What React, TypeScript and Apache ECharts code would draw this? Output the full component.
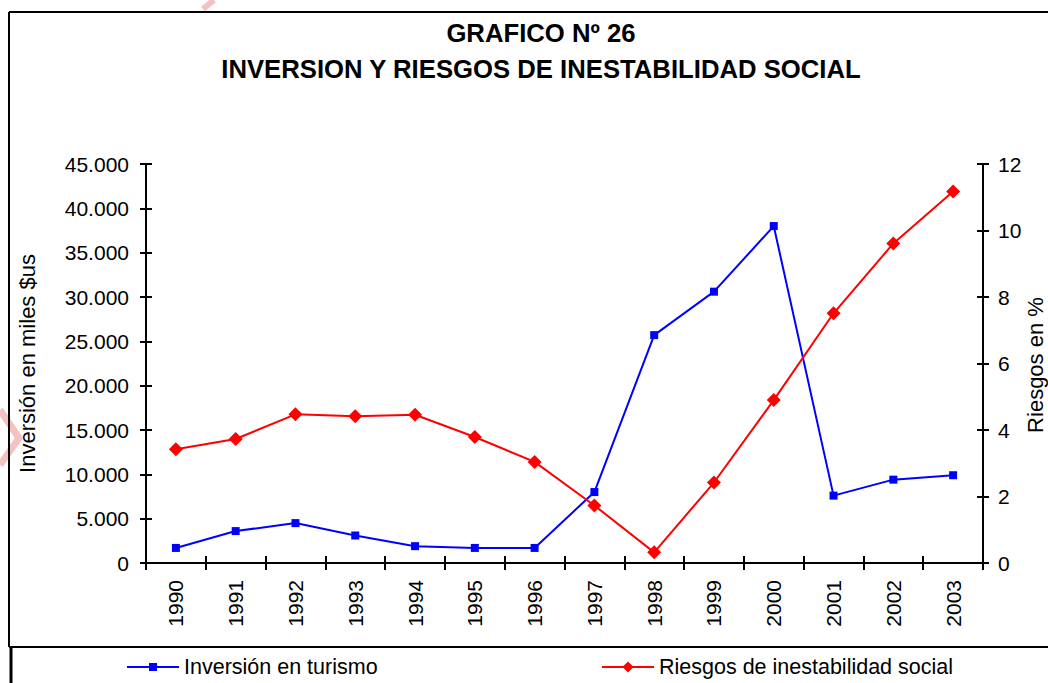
import React, { useEffect, useRef } from "react";
import * as echarts from "echarts";

const years = ["1990", "1991", "1992", "1993", "1994", "1995", "1996", "1997", "1998", "1999", "2000", "2001", "2002", "2003"];
const inversion = [1700, 3600, 4500, 3100, 1900, 1700, 1700, 8000, 25700, 30600, 38000, 7600, 9400, 9900];
const riesgos = [3.42, 3.73, 4.47, 4.41, 4.46, 3.79, 3.04, 1.73, 0.32, 2.42, 4.9, 7.51, 9.61, 11.17];
const titleLines = ["GRAFICO Nº 26", "INVERSION Y RIESGOS DE INESTABILIDAD SOCIAL"];
const seriesNames = ["Inversión en turismo", "Riesgos de inestabilidad social"];
const leftAxisName = "Inversión en miles $us";
const rightAxisName = "Riesgos en %";

const FONT = "'Liberation Sans', Arial, sans-serif";

const fmtThousands = (v: number) => String(v).replace(/\B(?=(\d{3})+(?!\d))/g, ".");

export default function App() {
  const ref = useRef<HTMLDivElement>(null);
  useEffect(() => {
    if (!ref.current) return;
    const chart = echarts.init(ref.current, undefined, { renderer: "svg" });
    const tickStyle = { color: "#000", width: 2 };
    chart.setOption({
      animation: false,
      backgroundColor: "#fff",
      textStyle: { fontFamily: FONT },
      title: {
        text: titleLines.join("\n"),
        left: 541,
        top: 15,
        textAlign: "center",
        padding: 0,
        textStyle: { fontFamily: FONT, fontSize: 25.7, fontWeight: "bold", color: "#000", lineHeight: 36 },
      },
      grid: { left: 146, right: 65, top: 164, bottom: 120, containLabel: false },
      legend: [
        {
          data: [seriesNames[0]],
          left: 126,
          top: 656,
          itemWidth: 52,
          itemHeight: 10,
          padding: 0,
          textStyle: { fontFamily: FONT, fontSize: 21.5, color: "#000" },
        },
        {
          data: [seriesNames[1]],
          left: 601,
          top: 656,
          itemWidth: 52,
          itemHeight: 14,
          padding: 0,
          textStyle: { fontFamily: FONT, fontSize: 21.5, color: "#000" },
        },
      ],
      xAxis: [
        {
          type: "category",
          data: years,
          position: "bottom",
          boundaryGap: true,
          axisLine: { lineStyle: { color: "#000", width: 2 } },
          axisTick: { show: true, length: 7, lineStyle: tickStyle },
          axisLabel: { rotate: 90, margin: 17, fontSize: 21, color: "#000", fontFamily: FONT },
          splitLine: { show: false },
        },
        {
          type: "category",
          data: years,
          position: "bottom",
          boundaryGap: true,
          axisLine: { show: false },
          axisTick: { show: true, inside: true, length: 7, lineStyle: tickStyle },
          axisLabel: { show: false },
          splitLine: { show: false },
        },
      ],
      yAxis: [
        {
          type: "value",
          position: "left",
          min: 0,
          max: 45000,
          interval: 5000,
          name: leftAxisName,
          nameLocation: "middle",
          nameGap: 108,
          nameTextStyle: { fontFamily: FONT, fontSize: 22, color: "#000" },
          axisLine: { show: true, lineStyle: { color: "#000", width: 2 } },
          axisTick: { show: true, length: 6, lineStyle: tickStyle },
          axisLabel: { margin: 17, fontSize: 21, color: "#000", fontFamily: FONT, formatter: (v: number) => fmtThousands(v) },
          splitLine: { show: false },
        },
        {
          type: "value",
          position: "right",
          min: 0,
          max: 12,
          interval: 2,
          axisLine: { show: true, lineStyle: { color: "#000", width: 2 } },
          axisTick: { show: true, length: 6, lineStyle: tickStyle },
          axisLabel: { margin: 15, fontSize: 21, color: "#000", fontFamily: FONT },
          splitLine: { show: false },
        },
        {
          type: "value",
          position: "left",
          min: 0,
          max: 45000,
          interval: 5000,
          axisLine: { show: false },
          axisTick: { show: true, inside: true, length: 6, lineStyle: tickStyle },
          axisLabel: { show: false },
          splitLine: { show: false },
        },
        {
          type: "value",
          position: "right",
          min: 0,
          max: 12,
          interval: 2,
          axisLine: { show: false },
          axisTick: { show: true, inside: true, length: 6, lineStyle: tickStyle },
          axisLabel: { show: false },
          splitLine: { show: false },
        },
      ],
      graphic: [
        { type: "line", shape: { x1: 9, y1: 12, x2: 1060, y2: 12 }, style: { stroke: "#000", lineWidth: 2 }, z: 100 },
        { type: "line", shape: { x1: 9, y1: 12, x2: 9, y2: 647 }, style: { stroke: "#000", lineWidth: 2 }, z: 100 },
        { type: "line", shape: { x1: 9, y1: 647, x2: 1060, y2: 647 }, style: { stroke: "#000", lineWidth: 2 }, z: 100 },
        { type: "line", shape: { x1: 11, y1: 647, x2: 11, y2: 690 }, style: { stroke: "#000", lineWidth: 3 }, z: 100 },
        { type: "polyline", shape: { points: [[0, 410], [19, 438], [0, 465]] }, style: { stroke: "#f3c2c2", lineWidth: 7, fill: "none" }, z: 1 },
        { type: "line", shape: { x1: 203, y1: 9, x2: 214, y2: 0 }, style: { stroke: "#f3c2c2", lineWidth: 6 }, z: 1 },
        {
          type: "text",
          x: 1035,
          y: 365,
          rotation: Math.PI / 2,
          style: { text: rightAxisName, fontFamily: FONT, fontSize: 22, fill: "#000", align: "center", verticalAlign: "middle" },
          z: 50,
        },
      ],
      series: [
        {
          name: seriesNames[0],
          type: "line",
          xAxisIndex: 0,
          yAxisIndex: 0,
          data: inversion,
          symbol: "rect",
          symbolSize: 8,
          itemStyle: { color: "#0000ff" },
          lineStyle: { color: "#0000ff", width: 2 },
        },
        {
          name: seriesNames[1],
          type: "line",
          xAxisIndex: 0,
          yAxisIndex: 1,
          data: riesgos,
          symbol: "diamond",
          symbolSize: 14,
          itemStyle: { color: "#ff0000" },
          lineStyle: { color: "#ff0000", width: 2 },
        },
      ],
    });
    return () => chart.dispose();
  }, []);
  return <div ref={ref} style={{ position: "fixed", left: 0, top: 0, width: 1048, height: 683 }} />;
}
